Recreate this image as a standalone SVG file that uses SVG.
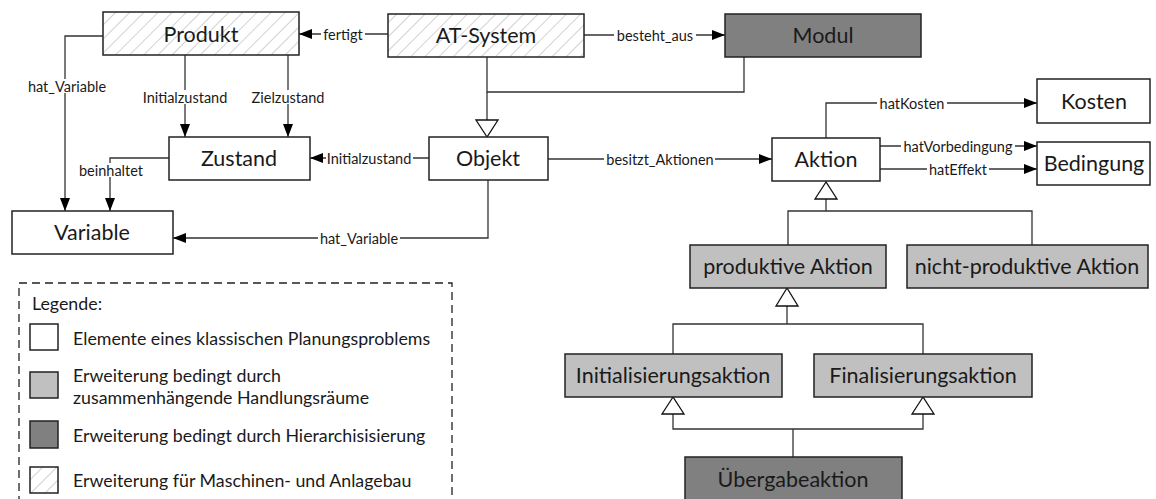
<svg xmlns="http://www.w3.org/2000/svg" width="1156" height="499" viewBox="0 0 1156 499">
<defs>
<pattern id="hatch" patternUnits="userSpaceOnUse" width="10" height="10" patternTransform="rotate(45)">
<rect width="10" height="10" fill="#ffffff"/>
<line x1="0" y1="0" x2="0" y2="10" stroke="#b4b4b4" stroke-width="1.2"/>
</pattern>
<marker id="arr" markerWidth="14" markerHeight="10" refX="13" refY="5" orient="auto" markerUnits="userSpaceOnUse">
<path d="M0,0 L13,5 L0,10 Z" fill="#000"/>
</marker>
</defs>
<style>
.box{stroke:#222;stroke-width:1.5}
.w{fill:#fff}
.l{fill:#c0c0c0}
.d{fill:#808080}
.h{fill:url(#hatch)}
.bt{font-family:Lato,"Open Sans",sans-serif;font-size:21.5px;fill:#1a1a1a;text-anchor:middle;dominant-baseline:central}
.c{fill:none;stroke:#333;stroke-width:1.3}
.ca{fill:none;stroke:#333;stroke-width:1.3;marker-end:url(#arr)}
.tri{fill:#fff;stroke:#111;stroke-width:1.3}
.bg{fill:#fff}
.lb{font-family:Lato,"Open Sans",sans-serif;font-size:14.5px;fill:#1a1a1a;text-anchor:middle;dominant-baseline:central}
.lg{font-family:Lato,"Open Sans",sans-serif;font-size:17.8px;fill:#1a1a1a;dominant-baseline:central}
</style>
<g id="connectors">
<path class="ca" d="M388,34 H299"/>
<path class="ca" d="M584,35 H725"/>
<path class="c" d="M487,57 V92 H744 V57"/>
<path class="c" d="M487,92 V120"/>
<path class="tri" d="M487,137 L476,120 L498,120 Z"/>
<path class="ca" d="M429,158 H310"/>
<path class="ca" d="M488,180 V238 H173"/>
<path class="ca" d="M103,36 H65 V211"/>
<path class="ca" d="M185,55 V137"/>
<path class="ca" d="M288,55 V137"/>
<path class="ca" d="M169,158 H110 V211"/>
<path class="ca" d="M548,159 H772"/>
<path class="ca" d="M826,138 V103 H1037"/>
<path class="ca" d="M880,146 H1037"/>
<path class="ca" d="M880,169 H1037"/>
<path class="c" d="M788,245 V211 H1032 V245"/>
<path class="c" d="M826,211 V199"/>
<path class="tri" d="M826,182 L815,199 L837,199 Z"/>
<path class="c" d="M673,354 V324 H923 V354"/>
<path class="c" d="M787,324 V306"/>
<path class="tri" d="M787,288 L776,306 L798,306 Z"/>
<path class="c" d="M673,414 V429 H923 V414"/>
<path class="c" d="M793,457 V429"/>
<path class="tri" d="M673,397 L662,414 L684,414 Z"/>
<path class="tri" d="M923,397 L912,414 L934,414 Z"/>
<rect class="bg" x="321" y="29" width="44" height="10"/>
<rect class="bg" x="614" y="30" width="82" height="10"/>
<rect class="bg" x="326" y="153" width="87" height="10"/>
<rect class="bg" x="318" y="233" width="82" height="10"/>
<rect class="bg" x="26" y="79" width="84" height="14"/>
<rect class="bg" x="141" y="90" width="89" height="14"/>
<rect class="bg" x="251" y="90" width="75" height="14"/>
<rect class="bg" x="78" y="163" width="67" height="14"/>
<rect class="bg" x="604" y="154" width="111" height="10"/>
<rect class="bg" x="877" y="98" width="70" height="10"/>
<rect class="bg" x="901" y="141" width="114" height="10"/>
<rect class="bg" x="927" y="164" width="62" height="10"/>
<text class="lb" x="343" y="34">fertigt</text>
<text class="lb" x="655" y="35">besteht_aus</text>
<text class="lb" x="369" y="158">Initialzustand</text>
<text class="lb" x="359" y="238">hat_Variable</text>
<text class="lb" x="67" y="86">hat_Variable</text>
<text class="lb" x="185" y="97">Initialzustand</text>
<text class="lb" x="288" y="97">Zielzustand</text>
<text class="lb" x="111" y="170">beinhaltet</text>
<text class="lb" x="660" y="159">besitzt_Aktionen</text>
<text class="lb" x="912" y="103">hatKosten</text>
<text class="lb" x="958" y="146">hatVorbedingung</text>
<text class="lb" x="958" y="169">hatEffekt</text>
</g>
<g id="produkt"><rect class="box h" x="103" y="12" width="196" height="43"/><text class="bt" x="201" y="34">Produkt</text></g>
<g id="at-system"><rect class="box h" x="388" y="14" width="196" height="43"/><text class="bt" x="486" y="35">AT-System</text></g>
<g id="modul"><rect class="box d" x="725" y="14" width="196" height="43"/><text class="bt" x="823" y="35">Modul</text></g>
<g id="zustand"><rect class="box w" x="169" y="137" width="141" height="43"/><text class="bt" x="239" y="158">Zustand</text></g>
<g id="objekt"><rect class="box w" x="429" y="137" width="119" height="43"/><text class="bt" x="488" y="158">Objekt</text></g>
<g id="variable"><rect class="box w" x="12" y="211" width="161" height="43"/><text class="bt" x="92" y="232">Variable</text></g>
<g id="aktion"><rect class="box w" x="772" y="138" width="108" height="43"/><text class="bt" x="826" y="159">Aktion</text></g>
<g id="kosten"><rect class="box w" x="1037" y="79" width="113" height="44"/><text class="bt" x="1094" y="101">Kosten</text></g>
<g id="bedingung"><rect class="box w" x="1037" y="142" width="113" height="43"/><text class="bt" x="1094" y="163">Bedingung</text></g>
<g id="produktive-aktion"><rect class="box l" x="690" y="245" width="196" height="43"/><text class="bt" x="788" y="266">produktive Aktion</text></g>
<g id="nicht-produktive-aktion"><rect class="box l" x="907" y="245" width="241" height="43"/><text class="bt" x="1027" y="266">nicht-produktive Aktion</text></g>
<g id="initialisierungsaktion"><rect class="box l" x="565" y="354" width="217" height="43"/><text class="bt" x="673" y="375">Initialisierungsaktion</text></g>
<g id="finalisierungsaktion"><rect class="box l" x="814" y="354" width="218" height="43"/><text class="bt" x="923" y="375">Finalisierungsaktion</text></g>
<g id="uebergabeaktion"><rect class="box d" x="685" y="457" width="217" height="50"/><text class="bt" x="793" y="479">Übergabeaktion</text></g>
<g id="legende">
<rect x="19" y="283" width="433" height="230" fill="none" stroke="#222" stroke-width="1.3" stroke-dasharray="8,5"/>
<text class="lg" x="32" y="303">Legende:</text>
<rect class="box w" x="30" y="324" width="28" height="26"/>
<text class="lg" x="73" y="338">Elemente eines klassischen Planungsproblems</text>
<rect class="box l" x="30" y="372" width="28" height="26"/>
<text class="lg" x="73" y="375">Erweiterung bedingt durch</text>
<text class="lg" x="73" y="397">zusammenhängende Handlungsräume</text>
<rect class="box d" x="30" y="421" width="28" height="27"/>
<text class="lg" x="73" y="435">Erweiterung bedingt durch Hierarchisisierung</text>
<rect class="box h" x="30" y="467" width="28" height="26"/>
<text class="lg" x="73" y="480">Erweiterung für Maschinen- und Anlagebau</text>
</g>
</svg>
